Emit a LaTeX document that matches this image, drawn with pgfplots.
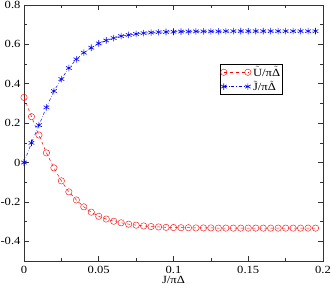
\documentclass[border=0pt]{standalone}
\usepackage{pgfplots}
\pgfplotsset{compat=1.18}
\usepackage{fontspec}
\setmainfont{Liberation Serif}[FakeStretch=1.15]
\newcommand\tl[1]{\ensuremath{\tilde{\mbox{#1}}}}
\begin{document}
\begin{tikzpicture}[font=\fontsize{11}{13}\selectfont]
\useasboundingbox (-24bp,-27bp) rectangle (308bp,261bp);
\begin{axis}[
  at={(0,0)}, anchor=south west,
  scale only axis,
  width=299bp, height=256bp,
  xmin=0, xmax=0.2, ymin=-0.5, ymax=0.8,
  xtick={0,0.05,0.1,0.15,0.2},
  xticklabels={0,0.05,0.1,0.15,0.2},
  ytick={-0.4,-0.2,0,0.2,0.4,0.6,0.8},
  yticklabels={-0.4,-0.2,0,0.2,0.4,0.6,0.8},
  minor x tick num=1, minor y tick num=1,
  tick align=inside,
  xtick pos=both, ytick pos=both,
  xticklabel pos=lower, yticklabel pos=left,
  major tick length=5bp, minor tick length=3bp,
  axis line style={line width=0.9pt, black!80},
  tick style={black!80, line width=0.6pt},
  xlabel={J/πΔ},
  xlabel style={at={(axis description cs:0.5,0)}, anchor=north, yshift=-11.5bp},
  xticklabel style={yshift=-1.3bp},
  tick label style={font=\fontsize{11}{13}\selectfont},
  label style={font=\fontsize{11}{13}\selectfont},
  legend style={at={(0.655,0.77)}, anchor=north west, draw=black, line width=0.5pt,
    font=\fontsize{11}{12}\selectfont, inner sep=0.5pt, row sep=-1pt, cells={anchor=west}},
  legend image code/.code={\draw[#1] plot coordinates {(0cm,0cm) (0.85cm,0cm)};},
  legend cell align=left,
  clip=false,
]
\addplot[red, dashed, line width=0.5pt, mark=o, mark size=3.2pt, mark options={solid, line width=0.4pt}]
coordinates {
(0,0.331)(0.005,0.233)(0.01,0.140)(0.015,0.049)(0.02,-0.027)(0.025,-0.093)
(0.03,-0.149)(0.035,-0.190)(0.04,-0.225)(0.045,-0.252)(0.05,-0.273)
(0.055,-0.287)(0.06,-0.298)(0.065,-0.306)(0.07,-0.313)(0.075,-0.318)
(0.08,-0.322)(0.085,-0.325)(0.09,-0.327)(0.095,-0.329)(0.1,-0.330)
(0.105,-0.331)(0.11,-0.331)(0.115,-0.332)(0.12,-0.332)(0.125,-0.332)
(0.13,-0.333)(0.135,-0.333)(0.14,-0.333)(0.145,-0.333)(0.15,-0.333)
(0.155,-0.333)(0.16,-0.333)(0.165,-0.333)(0.17,-0.333)(0.175,-0.333)
(0.18,-0.333)(0.185,-0.333)(0.19,-0.333)(0.195,-0.333)
};
\addlegendentry{\tl{U}/π\tl{Δ}}
\addplot[blue, dash dot, line width=0.5pt, mark=asterisk, mark size=3.3pt, mark options={solid, line width=0.6pt}]
coordinates {
(0,0.0)(0.005,0.100)(0.01,0.190)(0.015,0.280)(0.02,0.363)(0.025,0.424)
(0.03,0.480)(0.035,0.524)(0.04,0.558)(0.045,0.583)(0.05,0.605)
(0.055,0.620)(0.06,0.632)(0.065,0.642)(0.07,0.648)(0.075,0.653)
(0.08,0.657)(0.085,0.660)(0.09,0.662)(0.095,0.663)(0.1,0.664)
(0.105,0.665)(0.11,0.665)(0.115,0.666)(0.12,0.666)(0.125,0.666)
(0.13,0.666)(0.135,0.667)(0.14,0.667)(0.145,0.667)(0.15,0.667)
(0.155,0.667)(0.16,0.667)(0.165,0.667)(0.17,0.667)(0.175,0.667)
(0.18,0.667)(0.185,0.667)(0.19,0.667)(0.195,0.667)
};
\addlegendentry{\tl{J}/π\tl{Δ}}
\end{axis}
\end{tikzpicture}
\end{document}
